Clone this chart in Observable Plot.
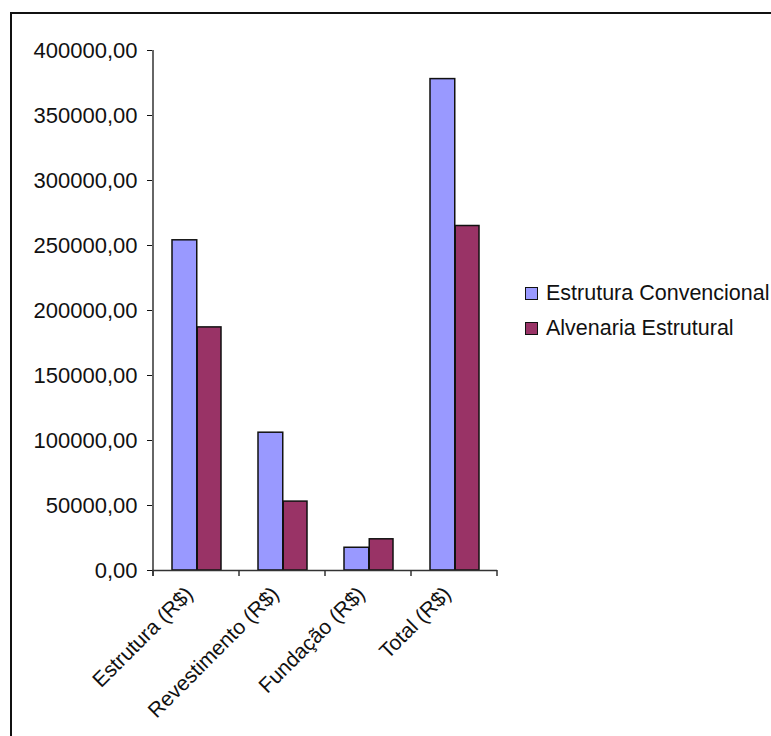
<!DOCTYPE html>
<html><head><meta charset="utf-8">
<script src="https://cdn.jsdelivr.net/npm/d3@7"></script>
<script src="https://cdn.jsdelivr.net/npm/@observablehq/plot@0.6"></script>
<style>
body{margin:0;background:#fff;font-family:"Liberation Sans",Arial,sans-serif;}
#wrap{position:relative;width:771px;height:736px;overflow:hidden;background:#fff}
#chart{position:absolute;left:0;top:0}
#chart g[aria-label^="y-axis"] text{font-size:22px}
#chart g[aria-label^="x-axis"] text{font-size:21px}
#frame{position:absolute;left:10px;top:12px;width:820px;height:820px;border:2px solid #111;box-sizing:border-box;pointer-events:none}
#legend{position:absolute;left:525px;top:276px;font-size:21.5px;color:#111}
.item{display:flex;align-items:center;height:35px;white-space:nowrap}
.sw{width:13px;height:13px;border:1.5px solid #111;margin-right:8px;box-sizing:border-box}
</style></head>
<body><div id="wrap"><div id="chart"></div><div id="legend"></div><div id="frame"></div></div>
<script>
const categories = ["Estrutura (R$)", "Revestimento (R$)", "Fundação (R$)", "Total (R$)"];
const seriesNames = ["Estrutura Convencional", "Alvenaria Estrutural"];
const convencional = [254000, 106000, 17500, 378000];
const alvenaria = [187000, 53000, 24000, 265000];
const colors = ["#9999ff", "#993366"];
const yTicks = [0, 50000, 100000, 150000, 200000, 250000, 300000, 350000, 400000];

const rows = categories.flatMap((c, i) => [
  {category: c, series: seriesNames[0], value: convencional[i]},
  {category: c, series: seriesNames[1], value: alvenaria[i]}
]);
const fmt = d => d.toFixed(2).replace(".", ",");

const axisLines = (index, scales) => {
  const g = d3.create("svg:g").attr("stroke", "#333").attr("stroke-width", 1.5).attr("fill", "none");
  const x = scales.x, y = scales.y;
  const step = x(categories[1]) - x(categories[0]);
  const x0 = x(categories[0]);
  const y0 = y(0), yTop = y(yTicks[yTicks.length - 1]);
  g.append("line").attr("x1", x0).attr("x2", x0).attr("y1", yTop).attr("y2", y0 + 6);
  const edges = categories.map(c => x(c)).concat([x(categories[categories.length - 1]) + step]);
  for (const e of edges) {
    g.append("line").attr("x1", e).attr("x2", e).attr("y1", y0).attr("y2", y0 + 6);
  }
  return g.node();
};

const chart = Plot.plot({
  width: 771, height: 736,
  marginLeft: 152, marginRight: 274, marginTop: 50, marginBottom: 166,
  style: {fontFamily: "'Liberation Sans', Arial, sans-serif", fontSize: "20px", color: "#111", background: "transparent"},
  x: {domain: categories, padding: 0, tickRotate: -45, tickSize: 0, tickPadding: 17, label: null},
  y: {domain: [0, 400000], ticks: yTicks, tickFormat: fmt, tickSize: 5, tickPadding: 10, label: null},
  color: {domain: seriesNames, range: colors},
  marks: [
    Plot.barY(rows.filter(d => d.series === seriesNames[0]), {x: "category", y: "value", fill: "series", stroke: "#111", strokeWidth: 1.5, insetLeft: 19, insetRight: 42.25}),
    Plot.barY(rows.filter(d => d.series === seriesNames[1]), {x: "category", y: "value", fill: "series", stroke: "#111", strokeWidth: 1.5, insetLeft: 44.25, insetRight: 18}),
    Plot.ruleY([0], {stroke: "#333", strokeWidth: 1.5}),
    axisLines
  ]
});
const gx = chart.querySelector('g[aria-label^="x-axis"]');
if (gx) gx.setAttribute("transform", (gx.getAttribute("transform") || "") + " translate(-7,3)");
document.getElementById("chart").appendChild(chart);

const legend = document.getElementById("legend");
seriesNames.forEach((s, i) => {
  const it = document.createElement("div");
  it.className = "item";
  const sw = document.createElement("div");
  sw.className = "sw";
  sw.style.background = colors[i];
  const t = document.createElement("span");
  t.textContent = s;
  it.appendChild(sw); it.appendChild(t);
  legend.appendChild(it);
});
</script>
</body></html>
